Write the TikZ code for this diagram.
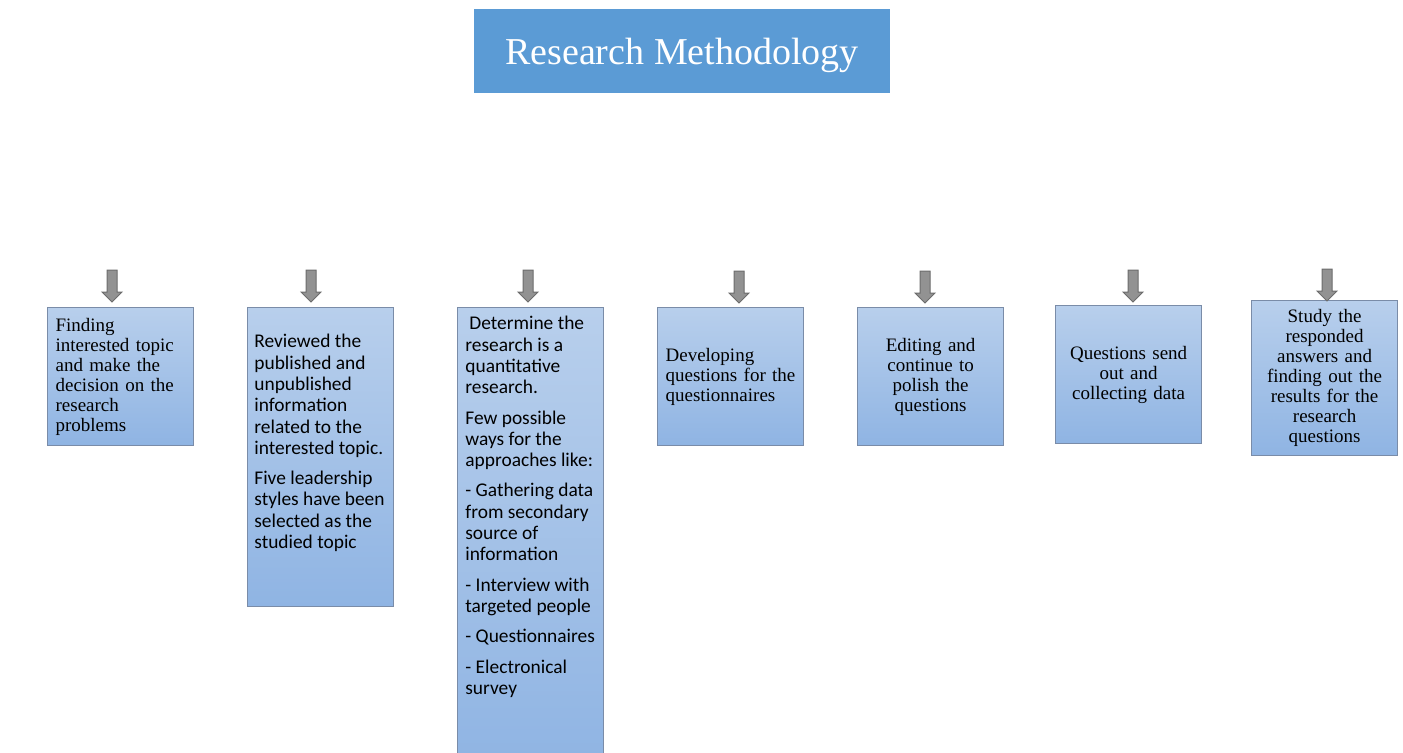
\documentclass[tikz,border=0pt]{standalone}
\usepackage{fontspec}
\setmainfont{Liberation Serif}
\newfontfamily\sansfam{Carlito}
\definecolor{titleblue}{RGB}{91,155,213}
\definecolor{boxtop}{RGB}{184,207,236}
\definecolor{boxbot}{RGB}{143,180,227}
\definecolor{boxline}{RGB}{122,140,168}
\definecolor{arrowfill}{RGB}{146,146,146}
\definecolor{arrowline}{RGB}{108,108,108}
\tikzset{
	stepbox/.style={draw=boxline, line width=0.6pt, top color=boxtop, bottom color=boxbot, anchor=north west, minimum width=73pt, inner xsep=4pt, text width=65pt},
	serifbox/.style={stepbox, font=\fontsize{9.5}{10}\selectfont},
	sanstext/.style={anchor=north west, inner sep=0pt, align=left, font=\sansfam\fontsize{9.7}{10.65}\selectfont},
	blockarrow/.style={fill=arrowfill, draw=arrowline, line width=0.5pt}
}
\newcommand\blockarr[1]{\filldraw[blockarrow] (#1) ++(-5,0) -- ++(10,0) -- ++(0,22) -- ++(5,0) -- ++(-10,10) -- ++(-10,-10) -- ++(5,0) -- cycle;}
\begin{document}
\begin{tikzpicture}[x=0.5pt,y=-0.5pt]
	\useasboundingbox (0,0) rectangle (1403,752);
	\clip (0,0) rectangle (1403,752);

	\node[fill=titleblue, text=white, minimum width=208pt, minimum height=42pt, text depth=0pt, font=\fontsize{19}{22}\selectfont] (title) at (682,51) {Research Methodology};

	\node[serifbox, align=left, minimum height=69pt] (b1) at (47,307) {Finding\\interested topic\\and make the\\decision on the\\research\\problems};
	\node[stepbox, minimum height=149.5pt] (b2) at (247,307) {};
	\node[stepbox, minimum height=230pt] (b3) at (457,307) {};
	\node[serifbox, align=left, minimum height=69pt] (b4) at (657,307) {Developing\\questions for the\\questionnaires};
	\node[serifbox, align=center, minimum height=69pt] (b5) at (857,307) {Editing and\\continue to\\polish the\\questions};
	\node[serifbox, align=center, minimum height=69pt] (b6) at (1055,305) {Questions send\\out and\\collecting data};
	\node[serifbox, align=center, minimum height=77.5pt] (b7) at (1251,300) {Study the\\responded\\answers and\\finding out the\\results for the\\research\\questions};

	\node[sanstext] (t2) at (254,334) {Reviewed the\\published and\\unpublished\\information\\related to the\\interested topic.\\[4.5pt]Five leadership\\styles have been\\selected as the\\studied topic};
	\node[sanstext] (t3) at (465,316) {\hspace{2pt}Determine the\\research is a\\quantitative\\research.\\[4.5pt]Few possible\\ways for the\\approaches like:\\[4.5pt]- Gathering data\\from secondary\\source of\\information\\[4.5pt]- Interview with\\targeted people\\[4.5pt]- Questionnaires\\[4.5pt]- Electronical\\survey};

	% arrows above the steps
	\coordinate (a1) at (112,270);
	\coordinate (a2) at (311,270);
	\coordinate (a3) at (528,270);
	\coordinate (a4) at (739,271);
	\coordinate (a5) at (925,271);
	\coordinate (a6) at (1133,270);
	\coordinate (a7) at (1327,269);
	\foreach \i in {1,...,7} {\blockarr{a\i}}
\end{tikzpicture}
\end{document}
